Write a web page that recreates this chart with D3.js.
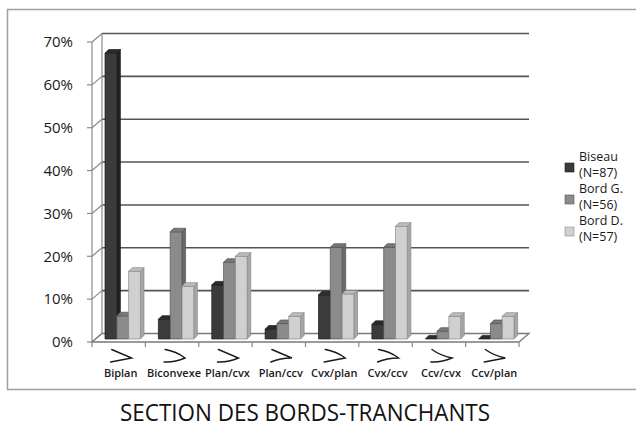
<!DOCTYPE html>
<html>
<head>
<meta charset="utf-8">
<script src="https://cdn.jsdelivr.net/npm/d3@7"></script>
<style>
  html, body { margin: 0; padding: 0; background: #fff; }
  svg { display: block; font-family: "Open Sans", "DejaVu Sans", sans-serif; }
</style>
</head>
<body>
<svg id="chart" width="636" height="428"></svg>
<script>
// Edge-section categories and share of each edge type (fractions)
const categories = ["Biplan", "Biconvexe", "Plan/cvx", "Plan/ccv", "Cvx/plan", "Cvx/ccv", "Ccv/cvx", "Ccv/plan"];
// Upper / lower face profile of each section pictogram
const sectionFaces = [["plan", "plan"], ["cvx", "cvx"], ["plan", "cvx"], ["plan", "ccv"],
                      ["cvx", "plan"], ["cvx", "ccv"], ["ccv", "cvx"], ["ccv", "plan"]];
const seriesNames = ["Biseau", "Bord G.", "Bord D."];
const seriesCounts = ["(N=87)", "(N=56)", "(N=57)"];
const biseau = [0.667, 0.046, 0.126, 0.023, 0.103, 0.034, 0.0, 0.0];
const bordG  = [0.054, 0.250, 0.179, 0.036, 0.214, 0.214, 0.018, 0.036];
const bordD  = [0.158, 0.123, 0.193, 0.053, 0.105, 0.263, 0.053, 0.053];
const yTicks = [0, 0.1, 0.2, 0.3, 0.4, 0.5, 0.6, 0.7];
const title = "SECTION DES BORDS-TRANCHANTS";

const series = [biseau, bordG, bordD];
const shades = [
  { front: "#3b3b3b", side: "#232323", top: "#2c2c2c", line: "#1c1c1c" },
  { front: "#8b8b8b", side: "#6a6a6a", top: "#787878", line: "#555" },
  { front: "#d0d0d0", side: "#a6a6a6", top: "#bcbcbc", line: "#8a8a8a" }
];

const svg = d3.select("#chart");

// Outer frame
svg.append("path")
  .attr("d", "M640,9.5 H7.5 V389.5 H640")
  .attr("fill", "none").attr("stroke", "#a0a0a0").attr("stroke-width", 1.5);

// Plot geometry: front plane and back wall offset (3D depth)
const x0 = 92, x1 = 519;
const depthX = 10, depthY = -8.5;
const x = d3.scaleBand().domain(categories).range([x0, x1]).padding(0);
const y = d3.scaleLinear().domain([0, 0.7]).range([342, 42]);

// Back wall gridlines
svg.append("g").selectAll("line").data(yTicks.slice(1)).join("line")
  .attr("x1", x0 + depthX).attr("x2", x1 + depthX)
  .attr("y1", d => y(d) + depthY).attr("y2", d => y(d) + depthY)
  .attr("stroke", "#555").attr("stroke-width", 1.6);

// Left wall: front edge, back edge and diagonals
const wall = svg.append("g").attr("stroke", "#8a8a8a").attr("stroke-width", 1.2).attr("fill", "none");
wall.append("line").attr("x1", x0).attr("x2", x0).attr("y1", y(0)).attr("y2", y(0.7));
wall.append("line").attr("x1", x0 + depthX).attr("x2", x0 + depthX)
  .attr("y1", y(0) + depthY).attr("y2", y(0.7) + depthY);
wall.selectAll(".diag").data(yTicks).join("line").attr("class", "diag")
  .attr("x1", x0).attr("y1", d => y(d))
  .attr("x2", x0 + depthX).attr("y2", d => y(d) + depthY);
wall.selectAll(".tick").data(yTicks).join("line").attr("class", "tick")
  .attr("x1", x0 - 5).attr("x2", x0).attr("y1", d => y(d)).attr("y2", d => y(d));

// Floor
svg.append("path")
  .attr("d", `M${x0},${y(0)} H${x1} L${x1 + depthX},${y(0) + depthY} H${x0 + depthX} Z`)
  .attr("fill", "#fff").attr("stroke", "#7a7a7a").attr("stroke-width", 1.3);

// Category tick marks under the floor
svg.append("g").selectAll("line").data(d3.range(categories.length + 1)).join("line")
  .attr("x1", i => x0 + i * x.bandwidth()).attr("x2", i => x0 + i * x.bandwidth())
  .attr("y1", y(0)).attr("y2", y(0) + 5)
  .attr("stroke", "#8a8a8a").attr("stroke-width", 1.2);

// Y axis labels
svg.append("g").selectAll("text").data(yTicks).join("text")
  .attr("x", 73).attr("y", d => y(d)).attr("dy", "0.35em")
  .attr("text-anchor", "end").attr("font-size", 15).attr("fill", "#1a1a1a")
  .text(d => d3.format(".0%")(d));

// 3D bars
const barW = 11.8, bd = 3.6;           // front width, bar depth
const shiftX = 3.5, shiftY = -3;       // bars stand partway into the floor
const yb = v => y(v) + shiftY;
const bars = svg.append("g");
categories.forEach((c, ci) => {
  series.forEach((vals, si) => {
    const v = vals[ci];
    const s = shades[si];
    const bx = x(c) + shiftX + 9.5 + si * barW;
    const top = yb(v), base = yb(0);
    const g = bars.append("g").attr("stroke", s.line).attr("stroke-width", 0.7).attr("stroke-linejoin", "round");
    if (base - top > 0.2) {
      g.append("path").attr("fill", s.side)
        .attr("d", `M${bx + barW},${base} L${bx + barW + bd},${base - bd} L${bx + barW + bd},${top - bd} L${bx + barW},${top} Z`);
      g.append("rect").attr("fill", s.front)
        .attr("x", bx).attr("y", top).attr("width", barW).attr("height", base - top);
    }
    g.append("path").attr("fill", s.top)
      .attr("d", `M${bx},${top} L${bx + bd},${top - bd} L${bx + barW + bd},${top - bd} L${bx + barW},${top} Z`);
  });
});

// Section pictograms: wedge with upper and lower face profiles meeting at the edge
const bulge = { plan: 0, cvx: 2.6, ccv: -2.2 };
const picto = svg.append("g").attr("fill", "none").attr("stroke", "#1a1a1a")
  .attr("stroke-width", 1.4).attr("stroke-linecap", "round").attr("stroke-linejoin", "miter");
categories.forEach((c, ci) => {
  const cx = x(c) + x.bandwidth() / 2 + 3;
  const [up, lo] = sectionFaces[ci];
  const ax = cx - 10, ay = 349.5;      // upper face start
  const vx = cx + 10, vy = 358;        // cutting edge
  const bx = cx - 11, by = 362;        // lower face end
  const path = d3.path();
  path.moveTo(ax, ay);
  path.quadraticCurveTo((ax + vx) / 2 + bulge[up] * 0.4, (ay + vy) / 2 - bulge[up], vx, vy);
  path.quadraticCurveTo((vx + bx) / 2, (vy + by) / 2 + bulge[lo], bx, by);
  picto.append("path").attr("d", path.toString());
});

// Category labels
svg.append("g").selectAll("text").data(categories).join("text")
  .attr("x", c => x(c) + x.bandwidth() / 2 + 2).attr("y", 376.5)
  .attr("text-anchor", "middle").attr("font-size", 11).attr("font-weight", 600)
  .attr("fill", "#1a1a1a")
  .text(c => c);

// Legend
const legend = svg.append("g");
seriesNames.forEach((n, i) => {
  const ly = 157 + i * 32;
  legend.append("rect").attr("x", 565).attr("y", ly + 6).attr("width", 9).attr("height", 9)
    .attr("fill", shades[i].front).attr("stroke", shades[i].line).attr("stroke-width", 0.6);
  legend.append("text").attr("x", 579).attr("y", ly).attr("dy", "0.35em")
    .attr("font-size", 12.5).attr("fill", "#1a1a1a").text(n);
  legend.append("text").attr("x", 579).attr("y", ly + 16).attr("dy", "0.35em")
    .attr("font-size", 12.5).attr("fill", "#1a1a1a").text(seriesCounts[i]);
});

// Title
svg.append("text")
  .attr("x", 120).attr("y", 421)
  .attr("font-size", 23).attr("fill", "#111")
  .attr("textLength", 370).attr("lengthAdjust", "spacingAndGlyphs")
  .text(title);
</script>
</body>
</html>
